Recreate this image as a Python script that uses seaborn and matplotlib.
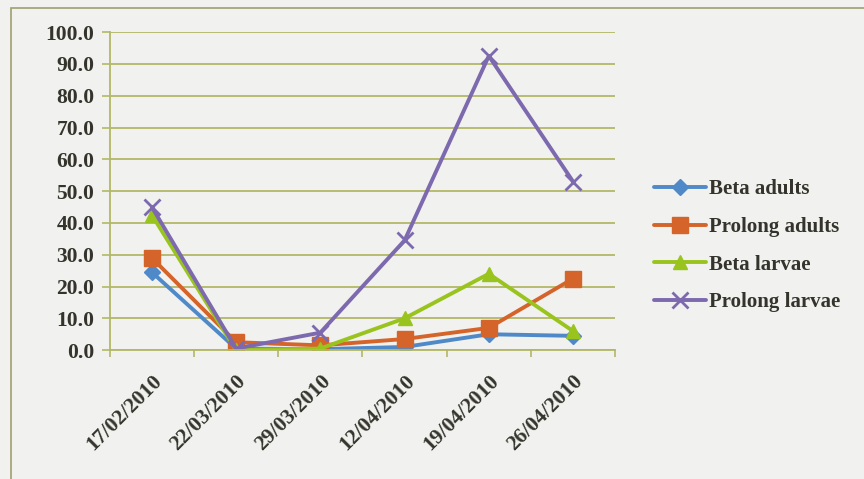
import matplotlib
matplotlib.use("Agg")
import matplotlib.pyplot as plt
import matplotlib.ticker as mticker
from matplotlib.patches import Rectangle
import pandas as pd
import seaborn as sns

dates = ["17/02/2010", "22/03/2010", "29/03/2010", "12/04/2010", "19/04/2010", "26/04/2010"]
beta_adults = [24.5, 0.5, 0.3, 1.0, 5.0, 4.5]
prolong_adults = [29.0, 2.5, 1.5, 3.5, 7.0, 22.5]
beta_larvae = [42.5, 0.0, 0.5, 10.0, 24.0, 6.0]
prolong_larvae = [45.0, 0.5, 5.5, 34.5, 92.5, 53.0]

series_names = ["Beta adults", "Prolong adults", "Beta larvae", "Prolong larvae"]
series_values = [beta_adults, prolong_adults, beta_larvae, prolong_larvae]
colors = ["#5089c8", "#d4642a", "#99c41e", "#7d69ae"]
markers = ["D", "s", "^", "x"]
marker_sizes = [8, 11, 10, 12]

sns.set_theme(style="white")
plt.rcParams["font.family"] = ["Liberation Serif", "DejaVu Serif"]

bg = "#f1f1ef"
text_c = "#34342c"
fig = plt.figure(figsize=(8.64, 4.79), dpi=100, facecolor=bg)
ax = fig.add_axes([0.127, 0.269, 0.585, 0.664], facecolor=bg)

# chart area frame
fig.add_artist(Rectangle((0.013, -0.2), 1.2, 1.183, transform=fig.transFigure,
                         fill=False, edgecolor="#a0a070", linewidth=1.2))

for name, vals, c, m, ms in zip(series_names, series_values, colors, markers, marker_sizes):
    df = pd.DataFrame({"date": dates, "value": vals})
    sns.lineplot(data=df, x="date", y="value", ax=ax, color=c, marker=m,
                 markersize=ms, linewidth=2.8, label=name,
                 markeredgecolor=c, markeredgewidth=2 if m == "x" else 1,
                 sort=False)

grid_c = "#b3b866"
ax.set_xlim(-0.5, len(dates) - 0.5)
ax.set_ylim(0, 100)
ax.yaxis.set_major_locator(mticker.MultipleLocator(10))
ax.yaxis.set_major_formatter(mticker.FormatStrFormatter("%.1f"))
ax.grid(axis="y", color=grid_c, linewidth=1.3)
ax.set_axisbelow(True)

ax.set_xticks(range(len(dates)))
ax.set_xticklabels(dates, rotation=45, ha="right", rotation_mode="anchor",
                   fontsize=15.5, color=text_c, fontweight="bold")
ax.tick_params(axis="x", length=0, pad=15)
ax.set_xticks([i - 0.5 for i in range(len(dates) + 1)], minor=True)
ax.tick_params(axis="x", which="minor", length=5, color=grid_c, width=1.2,
               direction="out", bottom=True)
ax.tick_params(axis="y", length=6, color=grid_c, width=1.2, direction="out",
               left=True, labelsize=15.5, labelcolor=text_c, pad=5)
for lbl in ax.get_yticklabels():
    lbl.set_fontweight("bold")

for s in ["top", "right"]:
    ax.spines[s].set_visible(False)
for s in ["left", "bottom"]:
    ax.spines[s].set_color(grid_c)
    ax.spines[s].set_linewidth(1.3)

ax.set_xlabel("")
ax.set_ylabel("")

leg = ax.legend(loc="upper left", bbox_to_anchor=(0.735, 0.665),
                bbox_transform=fig.transFigure, frameon=False,
                prop={"size": 15, "weight": "bold"},
                handlelength=2.5, handletextpad=0.15, labelspacing=0.85)
for t in leg.get_texts():
    t.set_color(text_c)

fig.savefig("out.png", dpi=100, facecolor=bg)
